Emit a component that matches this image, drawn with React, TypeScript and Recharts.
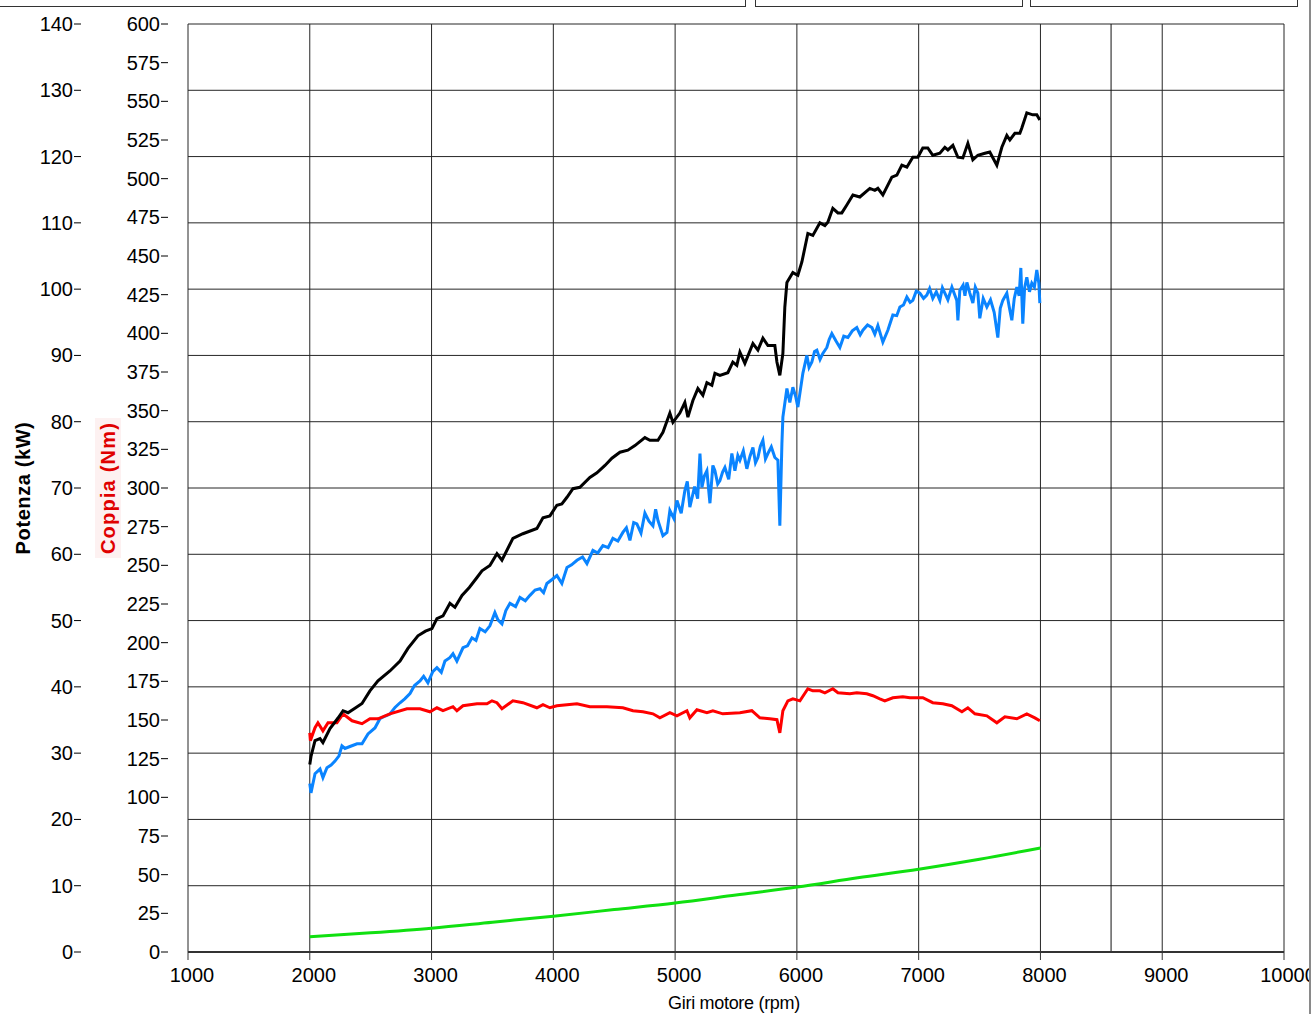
import React from 'react';
import { LineChart, Line, XAxis, YAxis, CartesianGrid, ReferenceLine } from 'recharts';

// ---- axis ticks ----
const rpmTicks = [1000, 2000, 3000, 4000, 5000, 6000, 7000, 8000, 9000, 10000];
const potenzaTicks = [0, 10, 20, 30, 40, 50, 60, 70, 80, 90, 100, 110, 120, 130, 140];
const coppiaTicks = [0, 25, 50, 75, 100, 125, 150, 175, 200, 225, 250, 275, 300, 325, 350, 375, 400, 425, 450, 475, 500, 525, 550, 575, 600];

// ---- series: [rpm, value] ----
// black: power (kW)
const potenzaMotore: number[][] = [
  [2000, 28.3], [2010, 29.5], [2043, 31.9], [2084, 32.2], [2108, 31.6], [2166, 33.7], [2232, 35.3], [2273, 36.4],
  [2314, 36.1], [2380, 36.9], [2429, 37.5], [2494, 39.4], [2560, 40.9], [2658, 42.4], [2741, 43.9], [2806, 45.8],
  [2888, 47.7], [2950, 48.4], [3003, 48.8], [3044, 50.3], [3094, 50.7], [3151, 52.6], [3192, 52.0], [3250, 53.8],
  [3310, 55.0], [3373, 56.5], [3414, 57.5], [3479, 58.3], [3537, 60.1], [3578, 59.1], [3668, 62.4], [3750, 63.1],
  [3865, 63.9], [3915, 65.5], [3972, 65.8], [4029, 67.4], [4070, 67.6], [4112, 68.6], [4161, 69.9], [4218, 70.1],
  [4300, 71.6], [4358, 72.3], [4424, 73.4], [4481, 74.5], [4547, 75.4], [4612, 75.7], [4670, 76.4], [4752, 77.6],
  [4793, 77.2], [4859, 77.2], [4900, 78.4], [4957, 81.3], [4982, 79.9], [5039, 81.3], [5080, 82.9], [5105, 80.7],
  [5146, 83.2], [5187, 85.0], [5228, 84.0], [5261, 85.9], [5302, 85.5], [5327, 87.3], [5368, 87.0], [5433, 87.4],
  [5474, 89.0], [5507, 88.5], [5532, 90.5], [5573, 88.8], [5639, 91.8], [5680, 90.8], [5721, 92.6], [5762, 91.5],
  [5819, 91.5], [5836, 89.0], [5860, 87.0], [5885, 90.3], [5901, 97.3], [5918, 101.0], [5967, 102.5], [6008, 102.1],
  [6041, 104.1], [6090, 108.4], [6131, 108.1], [6189, 110.0], [6230, 109.6], [6254, 110.1], [6295, 112.2], [6337, 111.5],
  [6369, 111.5], [6410, 112.7], [6460, 114.2], [6517, 113.9], [6599, 115.2], [6640, 114.9], [6665, 115.2], [6706, 114.2],
  [6780, 116.9], [6821, 117.2], [6862, 118.7], [6903, 118.4], [6952, 119.9], [6993, 119.9], [7034, 121.3], [7075, 121.3],
  [7116, 120.2], [7174, 120.5], [7215, 121.4], [7240, 121.0], [7281, 121.7], [7322, 119.9], [7363, 119.8], [7404, 122.0],
  [7445, 119.5], [7486, 120.2], [7544, 120.5], [7584, 120.7], [7642, 118.7], [7683, 121.4], [7724, 123.2], [7749, 122.5],
  [7790, 123.5], [7831, 123.5], [7847, 124.3], [7888, 126.6], [7937, 126.3], [7970, 126.3], [7995, 125.5],
];

// blue: power (kW)
const potenzaRuota: number[][] = [
  [2000, 25.4], [2010, 24.0], [2043, 26.9], [2084, 27.6], [2108, 26.3], [2141, 27.8], [2175, 28.2], [2207, 28.8],
  [2240, 29.6], [2264, 31.1], [2289, 30.7], [2330, 31.0], [2388, 31.4], [2429, 31.4], [2478, 32.9], [2535, 33.8],
  [2576, 35.2], [2620, 35.6], [2658, 35.9], [2700, 36.9], [2741, 37.6], [2780, 38.2], [2823, 39.0], [2860, 40.2],
  [2905, 40.9], [2935, 41.6], [2970, 40.6], [3010, 42.3], [3044, 42.9], [3080, 42.2], [3110, 43.9], [3150, 44.4],
  [3176, 45.0], [3208, 43.9], [3258, 45.9], [3295, 46.2], [3332, 47.4], [3365, 47.0], [3397, 48.8], [3440, 48.3],
  [3479, 49.2], [3520, 51.2], [3545, 50.1], [3578, 49.5], [3610, 51.5], [3644, 52.6], [3690, 52.1], [3726, 53.5],
  [3770, 53.0], [3808, 53.8], [3850, 54.6], [3890, 54.8], [3920, 54.2], [3947, 55.6], [3990, 56.2], [4029, 56.8],
  [4070, 55.6], [4112, 58.0], [4150, 58.4], [4194, 59.1], [4240, 59.6], [4276, 58.6], [4325, 60.6], [4365, 60.2],
  [4407, 61.3], [4450, 61.0], [4489, 62.4], [4530, 62.0], [4571, 63.3], [4600, 64.0], [4629, 62.1], [4660, 64.8],
  [4686, 64.6], [4720, 63.2], [4752, 66.2], [4785, 65.0], [4818, 64.3], [4840, 66.8], [4859, 65.1], [4900, 62.8],
  [4933, 63.3], [4957, 66.6], [4990, 65.4], [5015, 68.1], [5050, 66.2], [5080, 69.6], [5100, 71.0], [5121, 67.1],
  [5160, 70.2], [5185, 68.4], [5204, 75.2], [5220, 70.1], [5240, 71.8], [5261, 72.6], [5286, 67.7], [5310, 73.4],
  [5327, 72.6], [5350, 70.6], [5368, 71.1], [5390, 72.4], [5409, 73.1], [5440, 71.3], [5466, 75.2], [5491, 72.6],
  [5515, 74.9], [5532, 74.2], [5560, 75.6], [5589, 72.9], [5615, 74.8], [5639, 76.1], [5660, 73.8], [5680, 74.6],
  [5700, 76.3], [5721, 77.2], [5742, 74.4], [5762, 75.2], [5790, 76.2], [5819, 74.6], [5844, 74.2], [5860, 64.3],
  [5877, 76.7], [5885, 80.7], [5918, 85.0], [5942, 82.9], [5967, 85.2], [5990, 83.8], [6008, 82.2], [6049, 87.3],
  [6082, 90.0], [6100, 88.2], [6123, 89.0], [6145, 90.6], [6164, 90.8], [6190, 89.4], [6213, 90.3], [6246, 91.2],
  [6265, 92.4], [6287, 93.3], [6320, 92.2], [6353, 91.2], [6385, 92.9], [6419, 92.7], [6455, 93.7], [6492, 94.2],
  [6520, 93.1], [6542, 93.8], [6580, 94.6], [6616, 94.2], [6640, 93.2], [6665, 94.5], [6706, 92.0], [6747, 93.8],
  [6788, 96.1], [6820, 96.0], [6846, 97.3], [6875, 97.6], [6903, 98.8], [6930, 98.0], [6952, 98.3], [6980, 99.7],
  [7010, 99.4], [7040, 98.6], [7067, 99.1], [7090, 100.1], [7116, 98.6], [7145, 99.6], [7174, 98.3], [7195, 100.2],
  [7215, 99.4], [7240, 98.4], [7273, 100.3], [7295, 99.2], [7313, 98.3], [7322, 95.3], [7338, 99.8], [7365, 100.6],
  [7380, 99.0], [7396, 101.0], [7420, 99.4], [7445, 97.9], [7465, 100.3], [7486, 99.4], [7502, 95.6], [7530, 98.6],
  [7560, 97.3], [7590, 98.4], [7620, 96.5], [7650, 92.7], [7670, 97.1], [7691, 98.3], [7724, 99.4], [7745, 97.2],
  [7765, 95.3], [7785, 98.6], [7806, 100.3], [7825, 99.0], [7839, 103.2], [7855, 94.8], [7870, 100.2], [7888, 101.8],
  [7910, 99.6], [7929, 100.9], [7950, 100.3], [7970, 102.9], [7987, 100.9], [7995, 97.9],
];

// red: torque (Nm)
const coppiaMotore: number[][] = [
  [2000, 141.7], [2005, 136.6], [2043, 145.0], [2067, 148.2], [2108, 143.0], [2150, 148.2], [2223, 148.2], [2273, 154.0],
  [2347, 149.5], [2429, 147.6], [2494, 150.8], [2560, 150.8], [2658, 154.0], [2798, 157.3], [2905, 157.3], [2987, 155.3],
  [3044, 157.9], [3094, 156.0], [3176, 158.6], [3208, 156.0], [3258, 159.2], [3373, 160.5], [3455, 160.5], [3496, 162.4],
  [3537, 161.2], [3578, 157.3], [3668, 162.4], [3750, 161.2], [3865, 157.9], [3915, 159.9], [3972, 157.9], [4029, 159.2],
  [4112, 159.9], [4194, 160.5], [4300, 158.6], [4440, 158.6], [4571, 157.9], [4654, 156.0], [4736, 155.3], [4818, 154.0],
  [4875, 151.4], [4957, 154.7], [5015, 152.7], [5097, 156.0], [5121, 151.4], [5179, 156.6], [5261, 154.7], [5310, 156.0],
  [5392, 154.0], [5532, 154.7], [5630, 156.0], [5696, 151.4], [5778, 150.8], [5836, 150.2], [5860, 141.7], [5885, 156.0],
  [5926, 162.4], [5967, 163.7], [6025, 162.4], [6090, 170.2], [6131, 168.9], [6189, 168.9], [6230, 167.6], [6295, 170.2],
  [6337, 167.6], [6435, 167.0], [6492, 167.6], [6574, 167.0], [6624, 165.7], [6681, 163.7], [6722, 162.4], [6788, 164.4],
  [6870, 165.0], [6928, 164.4], [7034, 164.4], [7116, 161.2], [7198, 160.5], [7272, 159.2], [7355, 155.3], [7404, 157.9],
  [7462, 154.0], [7560, 152.7], [7642, 148.2], [7708, 152.1], [7806, 150.8], [7888, 154.0], [7954, 151.4], [7995, 149.5],
];

// green: power (kW)
const potenzaPerdite: number[][] = [
  [2000, 2.3], [2500, 2.9], [3000, 3.6], [3500, 4.5], [4000, 5.4], [4500, 6.4], [5000, 7.4],
  [5500, 8.6], [6000, 9.8], [6500, 11.2], [7000, 12.5], [7500, 14.0], [8000, 15.7],
];

const toPoints = (arr: number[][]) => arr.map(([rpm, v]) => ({ rpm, v }));

const FONT = '"Liberation Sans", Arial, sans-serif';

const makeYTick = (textOff: number) => (props: any) => {
  const { x, y, payload } = props;
  return (
    <g>
      <text x={x - textOff} y={y} textAnchor="end" dominantBaseline="central" fontSize={20} fontFamily={FONT} fill="#000">
        {payload.value}
      </text>
      <line x1={x - textOff + 1} x2={x - textOff + 8} y1={y} y2={y} stroke="#000" strokeWidth={1} />
    </g>
  );
};

const XTick = (props: any) => {
  const { x, y, payload } = props;
  return (
    <g>
      <line x1={x} x2={x} y1={y} y2={y + 8} stroke="#333" strokeWidth={1} />
      <text x={x + 4} y={y + 30} textAnchor="middle" fontSize={20} fontFamily={FONT} fill="#000">
        {payload.value}
      </text>
    </g>
  );
};

const makeYTitle = (text: string, color: string, offX: number, spacing: number, bg?: string) => (props: any) => {
  const vb = props.viewBox || { x: 0, y: 0, width: 0, height: 0 };
  const cx = vb.x + offX;
  const cy = vb.y + vb.height / 2;
  return (
    <g>
      {bg ? <rect x={cx - 13} y={cy - 70} width={26} height={140} fill={bg} /> : null}
      <text
        x={cx}
        y={cy}
        transform={`rotate(-90, ${cx}, ${cy})`}
        textAnchor="middle"
        dominantBaseline="central"
        fill={color}
        fontWeight="bold"
        fontSize={20}
        letterSpacing={spacing}
        fontFamily={FONT}
      >
        {text}
      </text>
    </g>
  );
};

const XTitle = (props: any) => {
  const vb = props.viewBox || { x: 0, y: 0, width: 0, height: 0 };
  return (
    <text x={vb.x + vb.width / 2 - 2} y={vb.y + 57} textAnchor="middle" fontSize={18} fontFamily={FONT} fill="#000" letterSpacing={-0.3}>
      Giri motore (rpm)
    </text>
  );
};

export default function App() {
  return (
    <div style={{ position: 'absolute', left: 0, top: 0, width: 1315, height: 1014, background: '#fff', overflow: 'hidden' }}>
      <LineChart width={1315} height={1014} margin={{ top: 24, right: 31, bottom: 0, left: 0 }}>
        <CartesianGrid yAxisId="potenza" stroke="#262626" strokeWidth={1} />
        <XAxis
          dataKey="rpm"
          type="number"
          domain={[1000, 10000]}
          ticks={rpmTicks}
          interval={0}
          allowDataOverflow
          height={62}
          tickSize={0}
          tickMargin={0}
          tickLine={false}
          axisLine={{ stroke: '#333', strokeWidth: 2 }}
          tick={<XTick />}
          label={{ content: XTitle }}
        />
        <YAxis
          yAxisId="coppia"
          orientation="left"
          width={88}
          domain={[0, 600]}
          ticks={coppiaTicks}
          interval={0}
          allowDataOverflow
          tickSize={0}
          tickMargin={0}
          tickLine={false}
          axisLine={false}
          tick={makeYTick(28)}
          label={{ content: makeYTitle('Coppia (Nm)', '#e00000', 8, 1.2, '#fdf1f1') }}
        />
        <YAxis
          yAxisId="potenza"
          orientation="left"
          width={100}
          domain={[0, 140]}
          ticks={potenzaTicks}
          interval={0}
          allowDataOverflow
          tickSize={0}
          tickMargin={0}
          tickLine={false}
          axisLine={false}
          tick={makeYTick(27)}
          label={{ content: makeYTitle('Potenza (kW)', '#000', 23, 0.6) }}
        />
        <ReferenceLine yAxisId="potenza" x={8580} stroke="#111" strokeWidth={1} />
        <ReferenceLine
          yAxisId="potenza"
          segment={[{ x: 8580, y: 0 }, { x: 10000, y: 0 }]}
          stroke="#8a8a8a"
          strokeWidth={2}
        />
        <Line yAxisId="potenza" data={toPoints(potenzaPerdite)} dataKey="v" stroke="#10e010" strokeWidth={3} dot={false} isAnimationActive={false} type="monotone" />
        <Line yAxisId="potenza" data={toPoints(potenzaRuota)} dataKey="v" stroke="#0a84ff" strokeWidth={3} dot={false} isAnimationActive={false} type="linear" />
        <Line yAxisId="coppia" data={toPoints(coppiaMotore)} dataKey="v" stroke="#ff0000" strokeWidth={3} dot={false} isAnimationActive={false} type="linear" />
        <Line yAxisId="potenza" data={toPoints(potenzaMotore)} dataKey="v" stroke="#000" strokeWidth={3} dot={false} isAnimationActive={false} type="linear" />
      </LineChart>
      <div style={{ position: 'absolute', left: -2, top: -20, width: 748, height: 27, border: '1px solid #333', boxSizing: 'border-box' }} />
      <div style={{ position: 'absolute', left: 755, top: -20, width: 268, height: 27, border: '1px solid #333', boxSizing: 'border-box' }} />
      <div style={{ position: 'absolute', left: 1030, top: -20, width: 268, height: 27, border: '1px solid #333', boxSizing: 'border-box' }} />
      <div style={{ position: 'absolute', left: 1309, top: 0, width: 2, height: 1014, background: '#8a8a8a' }} />
      <div style={{ position: 'absolute', left: 1311, top: 0, width: 4, height: 1014, background: '#fff' }} />
    </div>
  );
}
